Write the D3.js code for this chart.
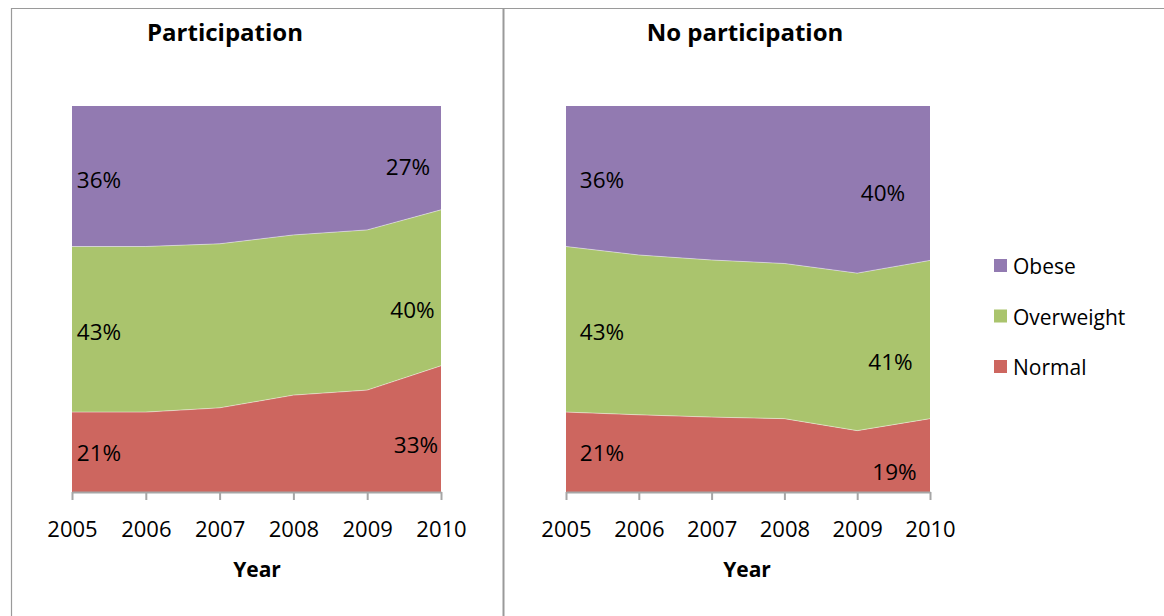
<!DOCTYPE html>
<html>
<head>
<meta charset="utf-8">
<script src="https://cdn.jsdelivr.net/npm/d3@7/dist/d3.min.js"></script>
<style>
  html, body { margin: 0; padding: 0; background: #fff; }
  svg { display: block; }
  text { font-family: "Open Sans", "Noto Sans", sans-serif; fill: #000; }
</style>
</head>
<body>
<svg id="chart" width="1164" height="616"></svg>
<script>
// ---- Data ----
const years = [2005, 2006, 2007, 2008, 2009, 2010];
const seriesKeys = ["Normal", "Overweight", "Obese"];
const legendOrder = ["Obese", "Overweight", "Normal"];

const partNormal     = [20.7, 20.7, 21.8, 25.1, 26.4, 32.7];
const partOverweight = [42.9, 42.9, 42.5, 41.5, 41.5, 40.4];
const partObese      = [36.4, 36.4, 35.7, 33.4, 32.1, 26.9];

const noPartNormal     = [20.7, 20.0, 19.4, 19.0, 15.9, 19.0];
const noPartOverweight = [42.9, 41.4, 40.7, 40.2, 40.8, 41.0];
const noPartObese      = [36.4, 38.6, 39.9, 40.8, 43.3, 40.0];

const panelTitles = ["Participation", "No participation"];
const xAxisTitle = "Year";

// ---- Styles / layout ----
const colors = { Obese: "#927ab1", Overweight: "#aac46d", Normal: "#cd665f" };
const svg = d3.select("#chart");

const plotTop = 106, plotBottom = 492;
const panels = [
  { title: panelTitles[0], x0: 72, x1: 441, titleX: 225, yearX: 257,
    normal: partNormal, overweight: partOverweight, obese: partObese,
    firstDx: 27, lastDx: { Obese: 33, Overweight: 28.5, Normal: 25 } },
  { title: panelTitles[1], x0: 566, x1: 930, titleX: 745, yearX: 747,
    normal: noPartNormal, overweight: noPartOverweight, obese: noPartObese,
    firstDx: 36, lastDx: { Obese: 47, Overweight: 39.5, Normal: 35.5 } }
];
const firstDy = { Obese: 4, Overweight: 3, Normal: 0.5 };
const lastDy = { Obese: 9.5, Overweight: 22, Normal: 16.5 };

// frame lines
const frame = svg.append("g").attr("stroke", "#9a9a9a").attr("fill", "none");
frame.append("line").attr("x1", 11.5).attr("x2", 11.5).attr("y1", 8).attr("y2", 616).attr("stroke-width", 1.2);
frame.append("line").attr("x1", 11).attr("x2", 1164).attr("y1", 8.5).attr("y2", 8.5).attr("stroke-width", 1.2);
frame.append("line").attr("x1", 503.5).attr("x2", 503.5).attr("y1", 8).attr("y2", 616).attr("stroke-width", 2);

const y = d3.scaleLinear().domain([0, 100]).range([plotBottom, plotTop]);

panels.forEach(p => {
  const rows = years.map((yr, i) => ({ year: yr, Normal: p.normal[i], Overweight: p.overweight[i], Obese: p.obese[i] }));
  const stacked = d3.stack().keys(seriesKeys)(rows);
  const x = d3.scaleLinear().domain([years[0], years[years.length - 1]]).range([p.x0, p.x1]);
  const g = svg.append("g");

  const area = d3.area().x(d => x(d.data.year)).y0(d => y(d[0])).y1(d => y(d[1]));
  g.selectAll("path.area").data(stacked).join("path")
    .attr("class", "area")
    .attr("d", area)
    .attr("fill", d => colors[d.key]);
  const topLine = d3.line().x(d => x(d.data.year)).y(d => y(d[1]));
  g.selectAll("path.edge").data(stacked.slice(0, 2)).join("path")
    .attr("class", "edge")
    .attr("d", topLine)
    .attr("fill", "none")
    .attr("stroke", "rgba(255,255,255,0.45)")
    .attr("stroke-width", 1);

  // x axis
  const axis = d3.axisBottom(x).tickValues(years).tickFormat(d3.format("d")).tickSize(8).tickSizeOuter(0);
  const ax = g.append("g").attr("transform", `translate(0,${plotBottom})`).call(axis);
  ax.select(".domain").attr("stroke", "#a6a6a6").attr("stroke-width", 2);
  ax.selectAll(".tick line").attr("stroke", "#a6a6a6").attr("stroke-width", 2);
  ax.selectAll(".tick text")
    .attr("y", 45).attr("dy", 0)
    .style("font-family", "\"Open Sans\", sans-serif")
    .style("font-size", "22px").attr("fill", "#000");

  // data labels: first and last point
  stacked.forEach(s => {
    const first = s[0], last = s[s.length - 1];
    g.append("text")
      .attr("x", p.x0 + p.firstDx)
      .attr("y", (y(first[0]) + y(first[1])) / 2 + firstDy[s.key] + 8)
      .attr("text-anchor", "middle")
      .style("font-size", "22.5px")
      .text(Math.round(first[1] - first[0]) + "%");
    g.append("text")
      .attr("x", p.x1 - p.lastDx[s.key])
      .attr("y", (y(last[0]) + y(last[1])) / 2 + lastDy[s.key] + 8)
      .attr("text-anchor", "middle")
      .style("font-size", "22.5px")
      .text(Math.round(last[1] - last[0]) + "%");
  });

  // titles
  g.append("text").attr("x", p.titleX).attr("y", 41).attr("text-anchor", "middle")
    .style("font-size", "24px").style("font-weight", "bold").text(p.title);
  g.append("text").attr("x", p.yearX).attr("y", 577).attr("text-anchor", "middle")
    .style("font-size", "21px").style("font-weight", "bold").text(xAxisTitle);
});

// legend
const legend = svg.append("g");
legendOrder.forEach((k, i) => {
  const cy = 266 + i * 50.5;
  legend.append("rect").attr("x", 994).attr("y", cy - 7).attr("width", 13).attr("height", 13).attr("fill", colors[k]);
  legend.append("text").attr("x", 1013).attr("y", cy + 8).style("font-size", "21px").text(k);
});
</script>
</body>
</html>
